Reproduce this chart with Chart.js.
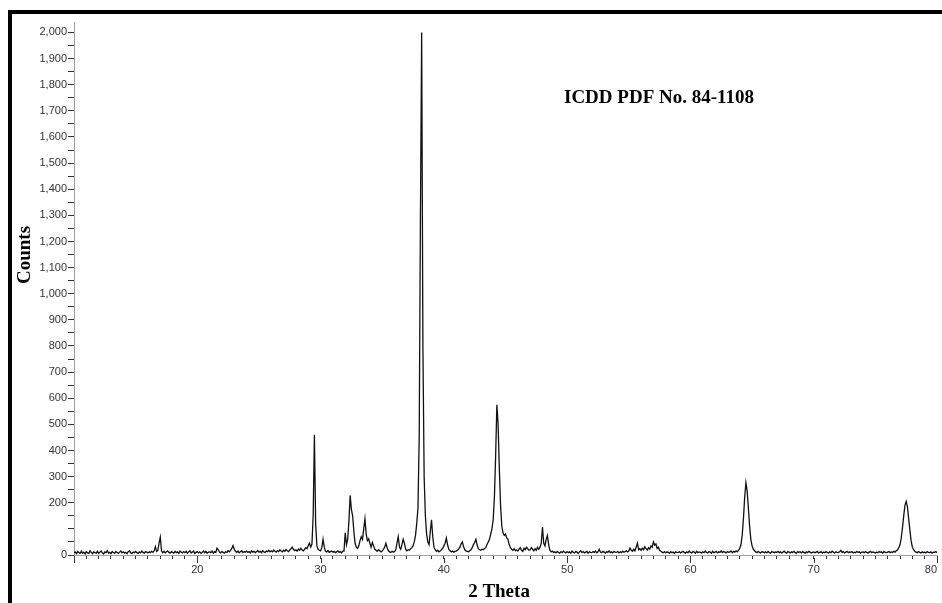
<!DOCTYPE html>
<html>
<head>
<meta charset="utf-8">
<script src="https://cdn.jsdelivr.net/npm/chart.js"></script>
<style>
  html, body { margin: 0; padding: 0; background: #fff; }
  #wrap { width: 942px; height: 603px; }
</style>
</head>
<body>
<div id="wrap"><canvas id="xrd" width="942" height="603"></canvas></div>
<script>
// scan grid of the diffractometer (degrees 2 theta)
const scanStart = 10;
const scanStep = 0.1;

// counts, one row per degree (10.0 .. 79.9), then 80.0
const counts = [
  8, 12, 5, 14, 9, 6, 15, 7, 11, 4,          // 10
  13, 8, 6, 16, 10, 5, 12, 9, 7, 14,         // 11
  6, 11, 15, 8, 4, 12, 9, 16, 7, 10,         // 12
  5, 13, 9, 7, 14, 10, 6, 11, 15, 8,         // 13
  12, 7, 10, 5, 13, 16, 8, 6, 11, 9,         // 14
  14, 9, 6, 12, 8, 15, 10, 7, 13, 11,        // 15
  8, 12, 9, 14, 10, 16, 32, 14, 18, 45,      // 16
  68, 15, 9, 14, 8, 12, 16, 10, 7, 13,       // 17
  10, 7, 14, 9, 12, 6, 15, 11, 8, 13,        // 18
  9, 14, 7, 12, 16, 8, 11, 15, 6, 10,        // 19
  13, 8, 12, 6, 10, 15, 9, 14, 7, 11,        // 20
  12, 9, 15, 7, 13, 10, 26, 20, 11, 8,       // 21
  14, 10, 7, 13, 9, 16, 12, 18, 25, 36,      // 22
  22, 14, 10, 15, 8, 12, 16, 9, 13, 11,      // 23
  15, 10, 13, 8, 16, 11, 14, 9, 12, 17,      // 24
  11, 14, 9, 16, 12, 10, 15, 13, 18, 12,     // 25
  16, 12, 19, 14, 11, 17, 13, 20, 15, 12,    // 26
  18, 14, 21, 16, 13, 19, 24, 30, 22, 17,    // 27
  20, 15, 23, 18, 26, 19, 16, 22, 28, 24,    // 28
  36, 45, 30, 42, 150, 460, 120, 35, 22, 18, // 29
  16, 28, 60, 30, 14, 12, 17, 10, 13, 15,    // 30
  11, 14, 9, 12, 16, 10, 13, 8, 15, 15,      // 31
  85, 40, 60, 130, 228, 175, 150, 90, 45, 30, // 32
  25, 35, 55, 70, 60, 100, 138, 80, 55, 62,  // 33
  45, 30, 48, 35, 22, 18, 14, 20, 16, 12,    // 34
  15, 22, 30, 45, 28, 16, 12, 10, 14, 11,    // 35
  13, 20, 45, 70, 30, 22, 40, 60, 45, 22,    // 36
  16, 20, 18, 24, 28, 35, 50, 75, 120, 180,  // 37
  450, 1300, 2000, 800, 300, 150, 80, 50, 40, 90, // 38
  135, 70, 30, 20, 14, 18, 12, 15, 20, 25,   // 39
  35, 45, 65, 40, 22, 16, 12, 15, 11, 14,    // 40
  15, 18, 22, 30, 42, 50, 32, 20, 16, 14,    // 41
  12, 16, 20, 28, 40, 48, 60, 38, 24, 20,    // 42
  18, 22, 20, 25, 28, 40, 50, 60, 80, 100,   // 43
  135, 220, 380, 575, 500, 330, 190, 110, 85, 75, // 44
  80, 65, 60, 40, 28, 22, 18, 24, 16, 20,    // 45
  15, 22, 28, 18, 14, 26, 20, 30, 24, 18,    // 46
  20, 28, 22, 16, 24, 18, 30, 22, 30, 45,    // 47
  107, 45, 35, 60, 75, 40, 18, 12, 15, 10,   // 48
  12, 8, 14, 10, 7, 13, 9, 15, 11, 8,        // 49
  13, 9, 12, 7, 15, 10, 8, 14, 11, 6,        // 50
  12, 16, 9, 13, 8, 11, 14, 7, 12, 10,       // 51
  9, 13, 10, 15, 8, 12, 22, 11, 9, 14,       // 52
  11, 7, 13, 10, 16, 9, 12, 8, 14, 11,       // 53
  10, 14, 8, 12, 9, 15, 11, 13, 16, 12,      // 54
  15, 27, 18, 14, 22, 16, 30, 45, 20, 24,    // 55
  18, 26, 20, 32, 24, 19, 28, 22, 35, 30,    // 56
  50, 38, 42, 25, 30, 18, 14, 11, 9, 13,     // 57
  8, 12, 10, 7, 13, 9, 11, 6, 12, 10,        // 58
  9, 13, 8, 11, 14, 10, 7, 12, 9, 15,        // 59
  10, 8, 13, 11, 7, 14, 9, 12, 10, 8,        // 60
  12, 9, 15, 10, 8, 13, 11, 7, 14, 9,        // 61
  11, 14, 8, 12, 10, 16, 9, 13, 11, 8,       // 62
  13, 10, 12, 15, 9, 14, 11, 16, 12, 18,     // 63
  25, 40, 75, 140, 220, 277, 245, 180, 110, 60, // 64
  35, 22, 16, 12, 9, 14, 10, 8, 13, 11,      // 65
  9, 12, 8, 14, 10, 7, 13, 11, 9, 12,        // 66
  10, 14, 9, 12, 8, 11, 15, 10, 7, 13,       // 67
  11, 8, 12, 10, 14, 9, 7, 13, 10, 12,       // 68
  8, 13, 10, 7, 12, 9, 14, 11, 8, 10,        // 69
  12, 9, 11, 14, 8, 10, 13, 7, 11, 9,        // 70
  13, 10, 8, 12, 9, 15, 11, 8, 12, 10,       // 71
  9, 12, 18, 10, 13, 8, 11, 14, 9, 12,       // 72
  10, 13, 8, 11, 9, 14, 10, 12, 7, 11,       // 73
  12, 9, 13, 10, 8, 11, 14, 9, 12, 10,       // 74
  8, 11, 9, 13, 10, 12, 7, 14, 10, 9,        // 75
  11, 13, 9, 12, 10, 14, 11, 16, 20, 28,     // 76
  40, 65, 105, 150, 190, 205, 185, 140, 95, 55, // 77
  30, 20, 14, 11, 9, 13, 10, 8, 12, 9,       // 78
  11, 8, 13, 10, 9, 12, 7, 11, 10, 13,       // 79
  9                                          // 80
];

const xTickLabels = [20, 30, 40, 50, 60, 70, 80];
const yTickLabels = [0, 200, 300, 400, 500, 600, 700, 800, 900, 1000,
  1100, 1200, 1300, 1400, 1500, 1600, 1700, 1800, 1900, 2000];

const xTitle = '2 Theta';
const yTitle = 'Counts';
const cardText = 'ICDD PDF No. 84-1108';

let points = counts.map(function(c, i) {
  return { x: scanStart + i * scanStep, y: c };
});

let xTicks = [];
for (let v = 10; v <= 80; v++) xTicks.push(v);
let yTicks = [];
for (let v = 0; v <= 2000; v += 50) yTicks.push(v);

const frameAndText = {
  id: 'frameAndText',
  afterDraw(chart) {
    const ctx = chart.ctx;
    const xs = chart.scales.x;
    ctx.save();
    // frame (top + left) of the original figure
    ctx.fillStyle = '#000';
    ctx.fillRect(8, 10, 934, 4);
    ctx.fillRect(8, 10, 4, 593);

    // longer ticks at every 10 degrees
    ctx.strokeStyle = '#333';
    ctx.lineWidth = 1;
    ctx.beginPath();
    xTicks.forEach(function(v) {
      if (v % 10 !== 0) return;
      let px = Math.round(xs.getPixelForValue(v)) + 0.5;
      ctx.moveTo(px, xs.top + 3);
      ctx.lineTo(px, xs.top + 8);
    });
    ctx.stroke();

    ctx.fillStyle = '#000';
    ctx.font = 'bold 19px "Liberation Serif", "Times New Roman", serif';
    ctx.textAlign = 'left';
    ctx.textBaseline = 'alphabetic';
    ctx.fillText(cardText, 564, 103);

    ctx.textAlign = 'center';
    ctx.textBaseline = 'middle';
    ctx.fillText(xTitle, 499, 592);

    ctx.translate(25, 255);
    ctx.rotate(-Math.PI / 2);
    ctx.fillText(yTitle, 0, 0);
    ctx.restore();
  }
};

let ctx = document.getElementById('xrd').getContext('2d');
let xrdChart = new Chart(ctx, {
  type: 'line',
  data: {
    datasets: [{
      data: points,
      borderColor: '#111',
      borderWidth: 1.3,
      pointRadius: 0,
      tension: 0,
      fill: false,
    }],
  },
  options: {
    responsive: false,
    animation: false,
    layout: { padding: { top: 22, right: 5, left: 0, bottom: 0 } },
    plugins: {
      legend: { display: false },
      tooltip: { enabled: false },
    },
    scales: {
      x: {
        type: 'linear',
        min: 10,
        max: 80,
        afterBuildTicks: function(axis) {
          axis.ticks = xTicks.map(function(v) { return { value: v }; });
        },
        afterFit: function(axis) {
          axis.height = 48;
          axis.paddingLeft = 0;
          axis.paddingRight = 0;
        },
        border: { display: true, color: '#a0a0a0', width: 1 },
        grid: { drawOnChartArea: false, drawTicks: true, tickLength: 4, tickColor: '#333' },
        ticks: {
          autoSkip: false,
          maxRotation: 0,
          align: 'inner',
          padding: 4,
          color: '#333',
          font: { family: '"Liberation Sans", Arial, sans-serif', size: 11 },
          callback: function(v) {
            return xTickLabels.indexOf(v) >= 0 ? String(v) : '';
          },
        },
      },
      y: {
        min: 0,
        max: 2040,
        afterBuildTicks: function(axis) {
          axis.ticks = yTicks.map(function(v) { return { value: v }; });
        },
        afterFit: function(axis) {
          axis.width = 74;
          axis.paddingTop = 0;
          axis.paddingBottom = 0;
        },
        border: { display: true, color: '#a0a0a0', width: 1 },
        grid: { drawOnChartArea: false, drawTicks: true, tickLength: 6, tickColor: '#333' },
        ticks: {
          autoSkip: false,
          padding: 1,
          color: '#333',
          font: { family: '"Liberation Sans", Arial, sans-serif', size: 11 },
          callback: function(v) {
            return yTickLabels.indexOf(v) >= 0 ? v.toLocaleString('en-US') : '';
          },
        },
      },
    },
  },
  plugins: [frameAndText],
});
</script>
</body>
</html>
